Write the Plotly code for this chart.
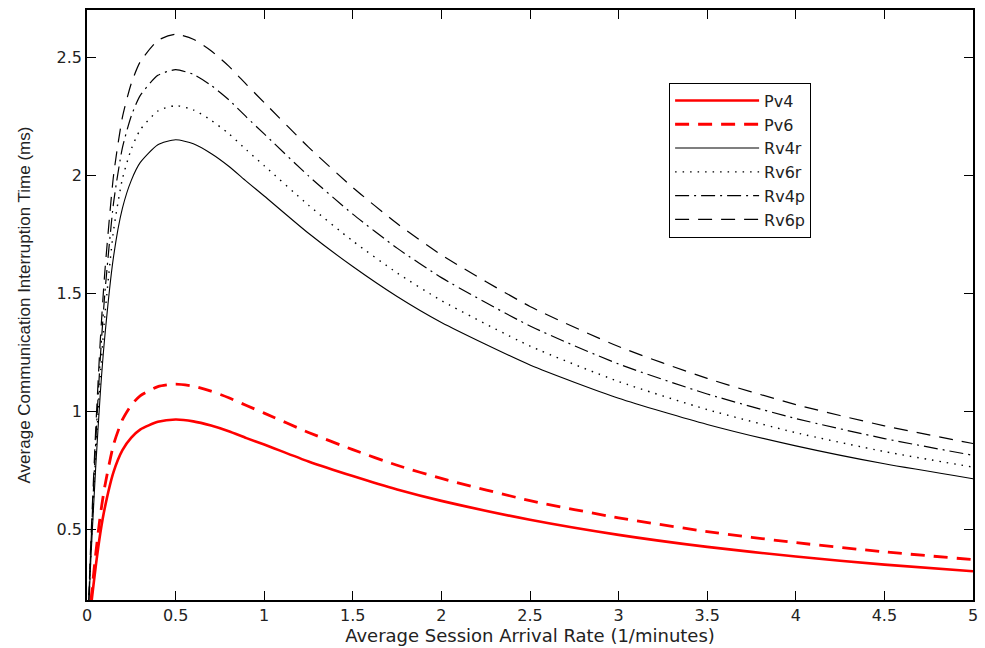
import plotly.graph_objects as go

x_rate = [0, 0.01, 0.02, 0.03, 0.05, 0.075, 0.1, 0.15, 0.2, 0.25, 0.3, 0.4, 0.5, 0.6, 0.7, 0.8, 0.9,
          1.0, 1.25, 1.5, 1.75, 2.0, 2.5, 3.0, 3.5, 4.0, 4.5, 5.0]

pv4 = [0, 0.077, 0.154, 0.222, 0.347, 0.483, 0.589, 0.743, 0.835, 0.888, 0.922, 0.955, 0.965, 0.957,
       0.939, 0.915, 0.886, 0.859, 0.787, 0.725, 0.668, 0.620, 0.540, 0.476, 0.425, 0.384, 0.350, 0.322]
pv6 = [0, 0.089, 0.178, 0.256, 0.401, 0.558, 0.680, 0.859, 0.964, 1.026, 1.065, 1.104, 1.115, 1.106,
       1.085, 1.057, 1.024, 0.992, 0.910, 0.837, 0.771, 0.715, 0.621, 0.548, 0.490, 0.443, 0.404, 0.371]
rv4r = [0, 0.172, 0.344, 0.495, 0.774, 1.075, 1.312, 1.656, 1.860, 1.978, 2.053, 2.129, 2.150, 2.133,
        2.092, 2.038, 1.974, 1.912, 1.754, 1.613, 1.486, 1.376, 1.196, 1.055, 0.944, 0.853, 0.777, 0.714]
rv6r = [0, 0.184, 0.367, 0.528, 0.826, 1.148, 1.400, 1.767, 1.985, 2.111, 2.192, 2.272, 2.295, 2.277,
        2.233, 2.176, 2.107, 2.040, 1.873, 1.721, 1.586, 1.469, 1.276, 1.126, 1.007, 0.909, 0.829, 0.763]
rv4p = [0, 0.196, 0.392, 0.563, 0.881, 1.224, 1.493, 1.884, 2.117, 2.251, 2.337, 2.423, 2.447, 2.427,
        2.381, 2.320, 2.246, 2.175, 1.997, 1.835, 1.691, 1.566, 1.361, 1.200, 1.073, 0.969, 0.884, 0.813]
rv6p = [0, 0.208, 0.416, 0.597, 0.935, 1.299, 1.584, 2.000, 2.246, 2.389, 2.480, 2.571, 2.597, 2.576,
        2.527, 2.462, 2.384, 2.308, 2.119, 1.948, 1.795, 1.662, 1.444, 1.274, 1.139, 1.028, 0.938, 0.863]

series_names = ["Pv4", "Pv6", "Rv4r", "Rv6r", "Rv4p", "Rv6p"]
series_values = [pv4, pv6, rv4r, rv6r, rv4p, rv6p]
styles = [
    dict(color="#ff0000", width=2.6, dash="solid"),
    dict(color="#ff0000", width=2.8, dash="14px,9px"),
    dict(color="#000000", width=1.1, dash="solid"),
    dict(color="#000000", width=1.4, dash="1.5px,6px"),
    dict(color="#000000", width=1.2, dash="14px,5px,2px,5px"),
    dict(color="#000000", width=1.2, dash="14px,9px"),
]

x_ticks = [0, 0.5, 1, 1.5, 2, 2.5, 3, 3.5, 4, 4.5, 5]
x_tick_labels = ["0", "0.5", "1", "1.5", "2", "2.5", "3", "3.5", "4", "4.5", "5"]
y_ticks = [0.5, 1, 1.5, 2, 2.5]
y_tick_labels = ["0.5", "1", "1.5", "2", "2.5"]

fig = go.Figure()
for name, vals, st in zip(series_names, series_values, styles):
    fig.add_trace(go.Scatter(x=x_rate, y=vals, mode="lines", name=name,
                             line=dict(color=st["color"], width=st["width"], dash=st["dash"],
                                       shape="spline", smoothing=0.6)))

axis_common = dict(showline=True, linecolor="black", linewidth=1.5, mirror="ticks",
                   ticks="inside", ticklen=9, tickwidth=1.2, tickcolor="black",
                   showgrid=False, zeroline=False,
                   tickfont=dict(family="DejaVu Sans", size=16, color="#222"))

fig.update_layout(
    width=985, height=648,
    margin=dict(l=87, r=7, t=10, b=44),
    paper_bgcolor="white", plot_bgcolor="white",
    xaxis=dict(range=[0, 5], tickvals=x_ticks, ticktext=x_tick_labels,
               title=dict(text="Average Session Arrival Rate (1/minutes)", standoff=3,
                          font=dict(family="DejaVu Sans", size=18, color="#222")),
               **axis_common),
    yaxis=dict(range=[0.2, 2.7], tickvals=y_ticks, ticktext=y_tick_labels,
               title=dict(text="Average Communication Interruption Time (ms)", standoff=22,
                          font=dict(family="Liberation Sans", size=17, color="#222")),
               **axis_common),
    legend=dict(x=0.657, y=0.877, xanchor="left", yanchor="top",
                bgcolor="white", bordercolor="black", borderwidth=1,
                itemwidth=84, font=dict(family="DejaVu Sans", size=16, color="#222")),
    showlegend=True,
)

fig.write_html("out.html")
